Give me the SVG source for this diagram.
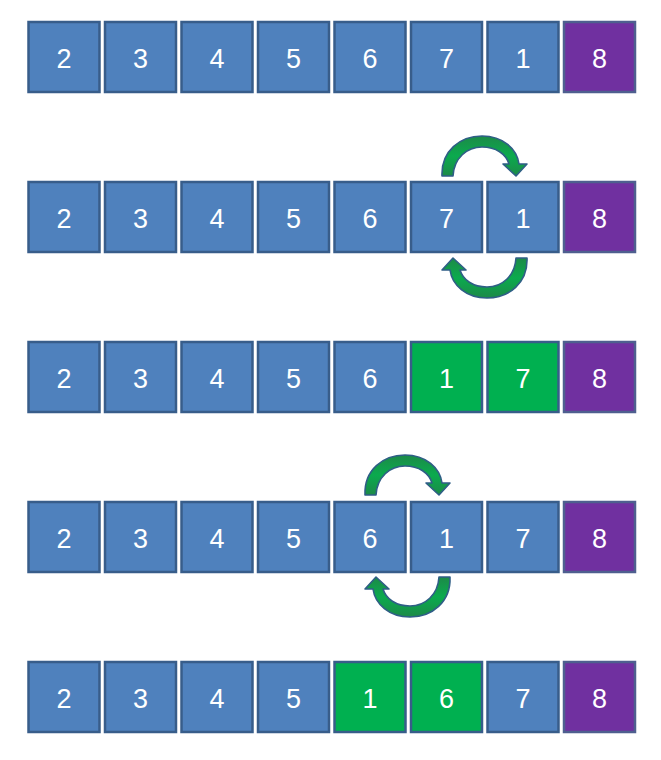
<svg xmlns="http://www.w3.org/2000/svg" xmlns:xlink="http://www.w3.org/1999/xlink" width="661" height="760" viewBox="0 0 661 760">
<style>
.b{fill:#4F81BD;stroke:#385D8A;stroke-width:2.5}
.p{fill:#7030A0;stroke:#4E5F8F;stroke-width:2.5}
.g{fill:#00B050;stroke:#385D8A;stroke-width:2.5}
text{font-family:"Liberation Sans",Arial,sans-serif;font-size:27px;fill:#FFFFFF;text-anchor:middle}
.arr{fill:url(#ag);stroke:#2F5E86;stroke-width:1.6;stroke-linejoin:round}
</style>
<defs>
<linearGradient id="ag" x1="0" y1="0" x2="0" y2="1">
<stop offset="0" stop-color="#1C8A48"/>
<stop offset="0.5" stop-color="#0BAA4E"/>
<stop offset="1" stop-color="#1C8A48"/>
</linearGradient>
<path id="ca" d="M 442 176 C 441 151 460 136 482 136 C 503 136 517 149 519 164 L 527 164 L 516 176 L 503 164 L 509 164 C 506 154 496 147 482 147 C 467 147 454 158 453 176 Z"/>
</defs>
<rect width="661" height="760" fill="#FFFFFF"/>

<g id="row1">
<g id="r1n1"><rect class="b" x="28.5" y="22" width="71" height="70"/><text x="64" y="67.5">2</text></g>
<g id="r1n2"><rect class="b" x="105" y="22" width="71" height="70"/><text x="140.5" y="67.5">3</text></g>
<g id="r1n3"><rect class="b" x="181.5" y="22" width="71" height="70"/><text x="217" y="67.5">4</text></g>
<g id="r1n4"><rect class="b" x="258" y="22" width="71" height="70"/><text x="293.5" y="67.5">5</text></g>
<g id="r1n5"><rect class="b" x="334.5" y="22" width="71" height="70"/><text x="370" y="67.5">6</text></g>
<g id="r1n6"><rect class="b" x="411" y="22" width="71" height="70"/><text x="446.5" y="67.5">7</text></g>
<g id="r1n7"><rect class="b" x="487.5" y="22" width="71" height="70"/><text x="523" y="67.5">1</text></g>
<g id="r1n8"><rect class="p" x="564" y="22" width="71" height="70"/><text x="599.5" y="67.5">8</text></g>
</g>

<g id="row2">
<g id="r2n1"><rect class="b" x="28.5" y="182" width="71" height="70"/><text x="64" y="227.5">2</text></g>
<g id="r2n2"><rect class="b" x="105" y="182" width="71" height="70"/><text x="140.5" y="227.5">3</text></g>
<g id="r2n3"><rect class="b" x="181.5" y="182" width="71" height="70"/><text x="217" y="227.5">4</text></g>
<g id="r2n4"><rect class="b" x="258" y="182" width="71" height="70"/><text x="293.5" y="227.5">5</text></g>
<g id="r2n5"><rect class="b" x="334.5" y="182" width="71" height="70"/><text x="370" y="227.5">6</text></g>
<g id="r2n6"><rect class="b" x="411" y="182" width="71" height="70"/><text x="446.5" y="227.5">7</text></g>
<g id="r2n7"><rect class="b" x="487.5" y="182" width="71" height="70"/><text x="523" y="227.5">1</text></g>
<g id="r2n8"><rect class="p" x="564" y="182" width="71" height="70"/><text x="599.5" y="227.5">8</text></g>
</g>

<g id="row3">
<g id="r3n1"><rect class="b" x="28.5" y="342" width="71" height="70"/><text x="64" y="387.5">2</text></g>
<g id="r3n2"><rect class="b" x="105" y="342" width="71" height="70"/><text x="140.5" y="387.5">3</text></g>
<g id="r3n3"><rect class="b" x="181.5" y="342" width="71" height="70"/><text x="217" y="387.5">4</text></g>
<g id="r3n4"><rect class="b" x="258" y="342" width="71" height="70"/><text x="293.5" y="387.5">5</text></g>
<g id="r3n5"><rect class="b" x="334.5" y="342" width="71" height="70"/><text x="370" y="387.5">6</text></g>
<g id="r3n6"><rect class="g" x="411" y="342" width="71" height="70"/><text x="446.5" y="387.5">1</text></g>
<g id="r3n7"><rect class="g" x="487.5" y="342" width="71" height="70"/><text x="523" y="387.5">7</text></g>
<g id="r3n8"><rect class="p" x="564" y="342" width="71" height="70"/><text x="599.5" y="387.5">8</text></g>
</g>

<g id="row4">
<g id="r4n1"><rect class="b" x="28.5" y="502" width="71" height="70"/><text x="64" y="547.5">2</text></g>
<g id="r4n2"><rect class="b" x="105" y="502" width="71" height="70"/><text x="140.5" y="547.5">3</text></g>
<g id="r4n3"><rect class="b" x="181.5" y="502" width="71" height="70"/><text x="217" y="547.5">4</text></g>
<g id="r4n4"><rect class="b" x="258" y="502" width="71" height="70"/><text x="293.5" y="547.5">5</text></g>
<g id="r4n5"><rect class="b" x="334.5" y="502" width="71" height="70"/><text x="370" y="547.5">6</text></g>
<g id="r4n6"><rect class="b" x="411" y="502" width="71" height="70"/><text x="446.5" y="547.5">1</text></g>
<g id="r4n7"><rect class="b" x="487.5" y="502" width="71" height="70"/><text x="523" y="547.5">7</text></g>
<g id="r4n8"><rect class="p" x="564" y="502" width="71" height="70"/><text x="599.5" y="547.5">8</text></g>
</g>

<g id="row5">
<g id="r5n1"><rect class="b" x="28.5" y="662" width="71" height="70"/><text x="64" y="707.5">2</text></g>
<g id="r5n2"><rect class="b" x="105" y="662" width="71" height="70"/><text x="140.5" y="707.5">3</text></g>
<g id="r5n3"><rect class="b" x="181.5" y="662" width="71" height="70"/><text x="217" y="707.5">4</text></g>
<g id="r5n4"><rect class="b" x="258" y="662" width="71" height="70"/><text x="293.5" y="707.5">5</text></g>
<g id="r5n5"><rect class="g" x="334.5" y="662" width="71" height="70"/><text x="370" y="707.5">1</text></g>
<g id="r5n6"><rect class="g" x="411" y="662" width="71" height="70"/><text x="446.5" y="707.5">6</text></g>
<g id="r5n7"><rect class="b" x="487.5" y="662" width="71" height="70"/><text x="523" y="707.5">7</text></g>
<g id="r5n8"><rect class="p" x="564" y="662" width="71" height="70"/><text x="599.5" y="707.5">8</text></g>
</g>

<g id="connectors">
<use xlink:href="#ca" class="arr"/>
<use xlink:href="#ca" class="arr" transform="rotate(180 484.5 217)"/>
<use xlink:href="#ca" class="arr" transform="translate(-77 319)"/>
<use xlink:href="#ca" class="arr" transform="translate(-77 319) rotate(180 484.5 217)"/>
</g>
</svg>
